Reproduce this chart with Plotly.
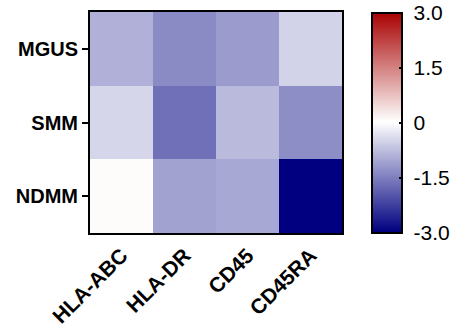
import plotly.graph_objects as go

markers = ["HLA-ABC", "HLA-DR", "CD45", "CD45RA"]
groups = ["MGUS", "SMM", "NDMM"]
mgus = [-0.93, -1.38, -1.18, -0.53]
smm = [-0.48, -1.68, -0.81, -1.33]
ndmm = [0.05, -1.09, -1.02, -3.0]
cbar_ticks = [3.0, 1.5, 0, -1.5, -3.0]
cbar_labels = ["3.0", "1.5", "0", "-1.5", "-3.0"]

z = [mgus, smm, ndmm]

fig = go.Figure(go.Heatmap(
    z=z, x=markers, y=groups,
    zmin=-3, zmax=3,
    colorscale=[[0, "rgb(0,0,128)"], [0.5, "rgb(255,255,255)"], [1, "rgb(168,0,0)"]],
    colorbar=dict(
        x=1.119, xanchor="left", xref="paper", xpad=0,
        y=0.5, yanchor="middle", ypad=0,
        lenmode="pixels", len=220,
        thickness=30,
        outlinewidth=2, outlinecolor="black",
        tickvals=cbar_ticks, ticktext=[" " + t for t in cbar_labels],
        ticks="inside", ticklen=4, tickwidth=2, tickcolor="black",
        tickfont=dict(family="Liberation Sans, Arial", size=21, color="black"),
    ),
))

fig.update_layout(
    width=459, height=325,
    margin=dict(l=90, r=117, t=12, b=92, autoexpand=False),
    plot_bgcolor="white", paper_bgcolor="white",
    font=dict(family="Liberation Sans, Arial", color="black"),
)
fig.update_xaxes(
    tickangle=-45, showline=True, linewidth=2, linecolor="black", mirror=True,
    ticks="", tickfont=dict(size=21, family="Liberation Sans, Arial", weight="bold"),
)
fig.update_yaxes(
    autorange="reversed", showline=True, linewidth=2, linecolor="black", mirror=True,
    ticks="outside", ticklen=6, tickwidth=2, tickcolor="black",
    tickfont=dict(size=20, family="Liberation Sans, Arial", weight="bold"),
)

fig.write_html("out.html")
